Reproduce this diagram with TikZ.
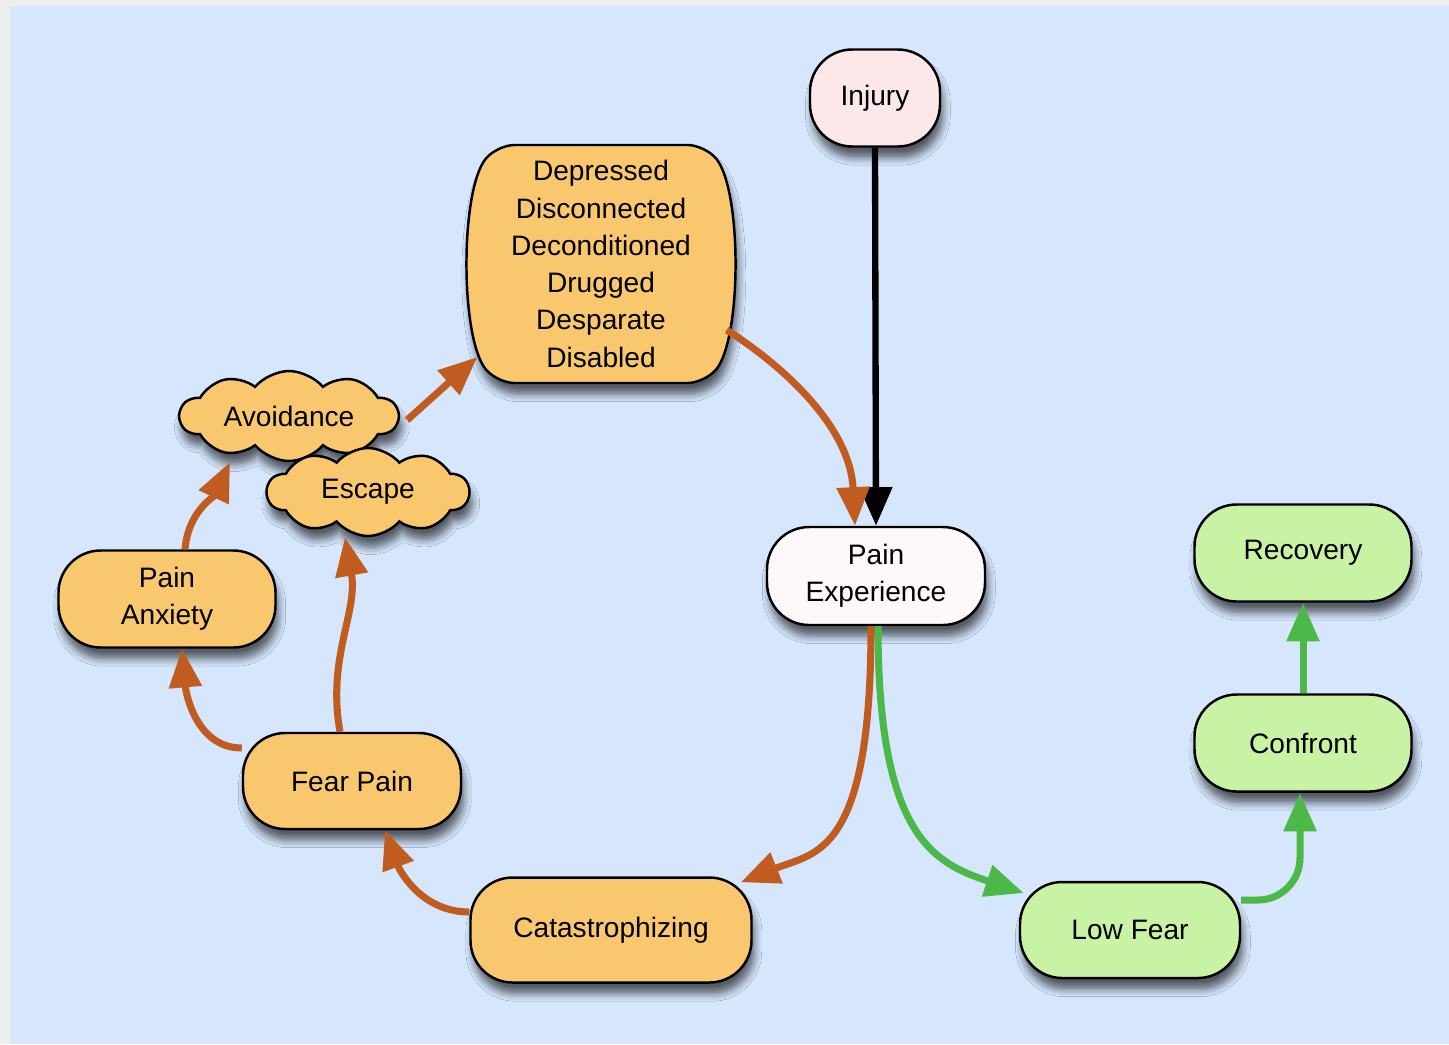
\documentclass[tikz,border=0pt]{standalone}
\usepackage{fontspec}
\setmainfont{Liberation Sans}
\usetikzlibrary{arrows.meta,shapes.symbols,shadows.blur}

\definecolor{bgblue}{RGB}{213,230,253}
\definecolor{bggrey}{RGB}{238,238,238}
\definecolor{boxorange}{RGB}{249,200,110}
\definecolor{lineorange}{RGB}{192,92,32}
\definecolor{boxgreen}{RGB}{200,242,164}
\definecolor{linegreen}{RGB}{76,184,72}
\definecolor{boxpink}{RGB}{252,232,232}
\definecolor{boxwhite}{RGB}{255,248,248}

\begin{document}
\begin{tikzpicture}[
        every node/.style={font=\fontsize{8}{10.6}\selectfont, align=center},
        shade/.style={blur shadow={shadow xshift=0.8pt, shadow yshift=-3.2pt, shadow opacity=60, shadow blur steps=6}},
        box/.style={draw=black, line width=0.7pt, rounded corners=12pt, shade, inner sep=2pt},
        orangebox/.style={box, fill=boxorange},
        greenbox/.style={box, fill=boxgreen},
        puff/.style={cloud, cloud puffs=10, cloud puff arc=100, cloud ignores aspect, draw=black, line width=0.7pt, fill=boxorange, shade, inner sep=0pt},
        toarrow/.style={line width=2pt, -{Triangle[length=11pt,width=9pt]}},
        orangearrow/.style={toarrow, draw=lineorange},
        greenarrow/.style={toarrow, draw=linegreen},
        blackarrow/.style={toarrow, line width=1.8pt, draw=black}
    ]
        % panel
        \fill[bggrey] (0,0) rectangle (14.49,-10.44);
        \fill[bgblue] (0.10,-0.06) rectangle (14.49,-10.44);
        \useasboundingbox (0,0) rectangle (14.49,-10.44);

        % the barrel shaped box behind the list of D's
        \draw[line width=0.7pt, fill=boxorange, shade, rounded corners=5pt] (6.01,-1.45) -- (7.05,-1.45)
            .. controls (7.42,-1.9) and (7.42,-3.38) .. (7.05,-3.83) -- (4.97,-3.83)
            .. controls (4.60,-3.38) and (4.60,-1.9) .. (4.97,-1.45) -- cycle;

        % nodes
        \node[box, fill=boxpink, minimum width=1.30cm, minimum height=0.97cm] (injury) at (8.75,-0.98) {Injury};
        \node[minimum width=2.58cm, minimum height=2.38cm] (dstate) at (6.01,-2.64)
            {Depressed\\Disconnected\\Deconditioned\\Drugged\\Desparate\\Disabled};
        \node[box, fill=boxwhite, minimum width=2.18cm, minimum height=0.98cm] (painexp) at (8.76,-5.76) {Pain\\Experience};
        \node[greenbox, minimum width=2.17cm, minimum height=0.97cm] (recovery) at (13.03,-5.53) {Recovery};
        \node[greenbox, minimum width=2.17cm, minimum height=0.97cm] (confront) at (13.03,-7.43) {Confront};
        \node[greenbox, minimum width=2.20cm, minimum height=0.96cm] (lowfear) at (11.30,-9.30) {Low Fear};
        \node[orangebox, minimum width=2.81cm, minimum height=1.05cm] (catastro) at (6.11,-9.30) {Catastrophizing};
        \node[orangebox, minimum width=2.18cm, minimum height=0.96cm] (fearpain) at (3.52,-7.81) {Fear Pain};
        \node[orangebox, minimum width=2.17cm, minimum height=0.97cm] (painanx) at (1.67,-5.99) {Pain\\Anxiety};
        \node[puff, minimum width=2.18cm, minimum height=0.90cm] (avoid) at (2.89,-4.16) {Avoidance};
        \node[puff, minimum width=2.02cm, minimum height=0.88cm] (escape) at (3.68,-4.92) {Escape};

        % connectors
        \draw[blackarrow] (injury.south) -- (painexp.north);
        \draw[orangearrow] ([xshift=-0.04cm,yshift=-0.66cm]dstate.east) .. controls +(0.55,-0.35) and +(-0.05,1.0) .. ([xshift=-0.21cm]painexp.north);
        \draw[orangearrow] ([xshift=-0.05cm]painexp.south) .. controls +(0,-2.3) and +(0.75,0.3) .. ([xshift=-0.12cm,yshift=-0.06cm]catastro.north east);
        \draw[orangearrow] ([yshift=0.18cm]catastro.west) to[out=180,in=-70] ([xshift=0.33cm]fearpain.south);
        \draw[orangearrow] ([yshift=0.33cm]fearpain.west) to[out=180,in=-85] ([xshift=0.15cm]painanx.south);
        \draw[orangearrow] ([xshift=-0.12cm]fearpain.north) to[out=100,in=-80] ([xshift=-0.23cm]escape.south);
        \draw[orangearrow] ([xshift=0.18cm]painanx.north) to[out=85,in=-115] ([xshift=-0.59cm]avoid.south);
        \draw[orangearrow] ([xshift=0.07cm,yshift=-0.04cm]avoid.east) -- ([xshift=0.06cm,yshift=-0.93cm]dstate.west);
        \draw[greenarrow] ([xshift=0.02cm]painexp.south) .. controls +(0,-2.1) and +(-0.9,0.3) .. ([xshift=0.05cm,yshift=0.37cm]lowfear.west);
        \draw[greenarrow, rounded corners=12pt] ([yshift=0.3cm]lowfear.east) -| ([xshift=-0.03cm]confront.south);
        \draw[greenarrow] (confront.north) -- (recovery.south);

    \end{tikzpicture}
\end{document}
